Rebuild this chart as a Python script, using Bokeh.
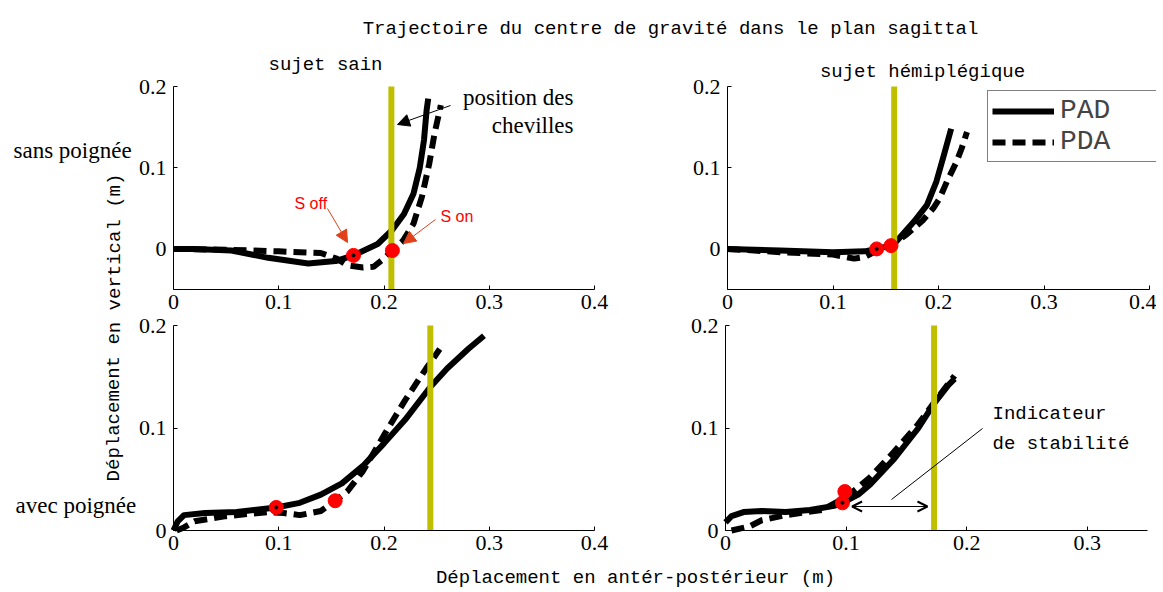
from bokeh.plotting import figure
from bokeh.models import (Range1d, LinearAxis, FixedTicker, Label, Arrow, NormalHead,
                          OpenHead, Legend, LegendItem)
from bokeh.embed import file_html
from bokeh.resources import INLINE

# ---------------- data ----------------
# sujet sain, sans poignee  (top-left)
tl_pad_x = [0, 0.02, 0.055, 0.09, 0.128, 0.154, 0.171, 0.194, 0.2076, 0.219, 0.228, 0.234, 0.238, 0.2405, 0.242]
tl_pad_y = [0, 0, -0.002, -0.011, -0.018, -0.015, -0.008, 0.006, 0.023, 0.043, 0.068, 0.10, 0.134, 0.171, 0.185]
tl_pda_x = [0, 0.05, 0.10, 0.12, 0.14, 0.155, 0.165, 0.18, 0.19, 0.20, 0.208, 0.218, 0.228, 0.236, 0.243, 0.248, 0.254]
tl_pda_y = [0, -0.001, -0.003, -0.004, -0.005, -0.012, -0.02, -0.023, -0.022, -0.012, -0.002, 0.010, 0.031, 0.064, 0.105, 0.142, 0.177]
tl_soff = (0.171, -0.008)
tl_son = (0.208, -0.002)
tl_ankle = 0.207

# sujet hemiplegique, sans poignee  (top-right)
tr_pad_x = [0, 0.05, 0.10, 0.13, 0.1414, 0.155, 0.160, 0.177, 0.189, 0.198, 0.205, 0.212]
tr_pad_y = [0, -0.002, -0.004, -0.003, 0.0, 0.004, 0.009, 0.034, 0.054, 0.083, 0.115, 0.148]
tr_pda_x = [0, 0.05, 0.10, 0.12, 0.13, 0.14, 0.155, 0.17, 0.185, 0.195, 0.201, 0.208, 0.217, 0.222, 0.227]
tr_pda_y = [0, -0.004, -0.007, -0.012, -0.010, -0.003, 0.004, 0.018, 0.035, 0.050, 0.062, 0.083, 0.107, 0.124, 0.144]
tr_soff = (0.1414, 0.0)
tr_son = (0.155, 0.004)
tr_ankle = 0.158

# sujet sain, avec poignee  (bottom-left)
bl_pad_x = [0, 0.004, 0.01, 0.03, 0.06, 0.0976, 0.12, 0.14, 0.16, 0.18, 0.20, 0.22, 0.244, 0.26, 0.28, 0.295]
bl_pad_y = [0, 0.009, 0.015, 0.017, 0.018, 0.0225, 0.027, 0.035, 0.046, 0.063, 0.085, 0.108, 0.140, 0.158, 0.177, 0.190]
bl_pda_x = [0.003, 0.01, 0.02, 0.05, 0.09, 0.105, 0.12, 0.14, 0.1536, 0.165, 0.18, 0.20, 0.22, 0.24, 0.253]
bl_pda_y = [0, 0.003, 0.009, 0.014, 0.018, 0.017, 0.015, 0.019, 0.029, 0.038, 0.058, 0.093, 0.127, 0.158, 0.177]
bl_soff = (0.0976, 0.0225)
bl_son = (0.1536, 0.029)
bl_ankle = 0.244

# sujet hemiplegique, avec poignee  (bottom-right)
br_pad_x = [0, 0.005, 0.015, 0.03, 0.05, 0.07, 0.09, 0.097, 0.11, 0.12, 0.14, 0.16, 0.173, 0.185, 0.19]
br_pad_y = [0.008, 0.014, 0.018, 0.019, 0.018, 0.020, 0.024, 0.027, 0.035, 0.045, 0.070, 0.100, 0.124, 0.142, 0.148]
br_pda_x = [0.005, 0.02, 0.03, 0.05, 0.08, 0.099, 0.11, 0.12, 0.14, 0.16, 0.175, 0.19]
br_pda_y = [0, 0.004, 0.010, 0.015, 0.020, 0.032, 0.042, 0.052, 0.077, 0.104, 0.128, 0.151]
br_soff = (0.097, 0.027)
br_son = (0.099, 0.038)
br_ankle = 0.173

xticks_04 = [0, 0.1, 0.2, 0.3, 0.4]
xticks_035 = [0, 0.1, 0.2, 0.3]
yticks = [0, 0.1, 0.2]
tick_text = {0: "0", 0.1: "0.1", 0.2: "0.2", 0.3: "0.3", 0.4: "0.4"}

# ---------------- figure ----------------
W, H = 1156, 588
OX, OY = 0, 0   # page position of the canvas

p = figure(width=W, height=H, output_backend="svg", toolbar_location=None, tools="",
           x_range=Range1d(OX, OX + W), y_range=Range1d(OY + H, OY),
           x_axis_location=None, y_axis_location=None, min_border=0, title=None)
p.outline_line_color = None
p.xgrid.visible = False
p.ygrid.visible = False
p.background_fill_color = "white"
p.border_fill_color = "white"

def mapped_range(d0, d1, p0, p1, lo, hi):
    k = (p1 - p0) / (d1 - d0)
    return Range1d(d0 + (lo - p0) / k, d0 + (hi - p0) / k)

panels = {
    "tl": dict(xlim=(0, 0.4), xpix=(173, 594), ylim=(-0.05, 0.2), ypix=(289, 86), xt=xticks_04,
               pad=(tl_pad_x, tl_pad_y), pda=(tl_pda_x, tl_pda_y), soff=tl_soff, son=tl_son, ank=tl_ankle),
    "tr": dict(xlim=(0, 0.4), xpix=(727, 1149), ylim=(-0.05, 0.2), ypix=(289, 86), xt=xticks_04,
               pad=(tr_pad_x, tr_pad_y), pda=(tr_pda_x, tr_pda_y), soff=tr_soff, son=tr_son, ank=tr_ankle),
    "bl": dict(xlim=(0, 0.4), xpix=(173, 594), ylim=(0, 0.2), ypix=(530, 325), xt=xticks_04,
               pad=(bl_pad_x, bl_pad_y), pda=(bl_pda_x, bl_pda_y), soff=bl_soff, son=bl_son, ank=bl_ankle),
    "br": dict(xlim=(0, 0.35), xpix=(725, 1147), ylim=(0, 0.2), ypix=(530, 325), xt=xticks_035,
               pad=(br_pad_x, br_pad_y), pda=(br_pda_x, br_pda_y), soff=br_soff, son=br_son, ank=br_ankle),
}

TICK_FONT = "Liberation Serif"
TEXT_FONT = "Liberation Mono"

def style_axis(ax):
    ax.axis_line_color = "black"
    ax.axis_line_width = 1
    ax.major_tick_line_color = "black"
    ax.major_tick_in = 4
    ax.major_tick_out = 0
    ax.minor_tick_line_color = None
    ax.major_label_text_font = TICK_FONT
    ax.major_label_text_font_size = "22px"
    ax.major_label_text_color = "black"

renderers = {}
for key, g in panels.items():
    xr, yr = key + "_x", key + "_y"
    p.extra_x_ranges[xr] = mapped_range(*g["xlim"], *g["xpix"], OX, OX + W)
    p.extra_y_ranges[yr] = mapped_range(*g["ylim"], *g["ypix"], OY + H, OY)

    xa = LinearAxis(x_range_name=xr, y_range_name=yr, fixed_location=g["ylim"][0],
                    bounds=g["xlim"], ticker=FixedTicker(ticks=g["xt"]),
                    major_label_overrides=dict(tick_text))
    style_axis(xa)
    xa.major_label_standoff = 5
    p.add_layout(xa, "below")

    ya = LinearAxis(x_range_name=xr, y_range_name=yr, fixed_location=g["xlim"][0],
                    bounds=g["ylim"], ticker=FixedTicker(ticks=yticks),
                    major_label_overrides=dict(tick_text))
    style_axis(ya)
    ya.major_label_standoff = 7
    p.add_layout(ya, "left")

    kw = dict(x_range_name=xr, y_range_name=yr)
    r_pad = p.line(g["pad"][0], g["pad"][1], line_color="black", line_width=6,
                   line_join="round", **kw)
    r_pda = p.line(g["pda"][0], g["pda"][1], line_color="black", line_width=6,
                   line_dash="13 7", **kw)
    renderers[key] = (r_pad, r_pda)
    # ankle position
    p.segment(x0=[g["ank"]], y0=[g["ylim"][0]], x1=[g["ank"]], y1=[g["ylim"][1]],
              line_color="#bfbf00", line_width=6, **kw)
    # S off / S on markers
    p.scatter([g["soff"][0], g["son"][0]], [g["soff"][1], g["son"][1]], size=14,
              fill_color="#ff0000", line_color="#ff0000", **kw)
    p.scatter([g["soff"][0]], [g["soff"][1]], size=3, fill_color="black",
              line_color="black", **kw)

# legend (top-right panel)
legend = Legend(items=[LegendItem(label="PAD", renderers=[renderers["tr"][0]]),
                       LegendItem(label="PDA", renderers=[renderers["tr"][1]])],
                location=(987, H - 162),
                label_text_font="Liberation Mono", label_text_font_size="28px")
legend.border_line_color = "black"
legend.border_line_width = 1
legend.background_fill_color = "white"
legend.background_fill_alpha = 1
legend.glyph_width = 62
legend.glyph_height = 28
legend.label_height = 28
legend.label_width = 95
legend.label_standoff = 6
legend.spacing = 0
legend.padding = 4
legend.margin = 0
p.add_layout(legend)

# ---------------- texts (page-pixel coordinates) ----------------
def txt(x, y, s, font=TEXT_FONT, size="19px", align="left", color="black", angle=0, style="normal"):
    p.add_layout(Label(x=x, y=y, text=s, text_font=font, text_font_size=size,
                       text_align=align, text_baseline="alphabetic", text_color=color,
                       angle=angle, text_font_style=style))

txt(670, 28, "Trajectoire du centre de gravité dans le plan sagittal", align="center")
txt(325, 64, "sujet sain", align="center")
txt(922, 71, "sujet hémiplégique", align="center")
txt(635, 577, "Déplacement en antér-postérieur (m)", align="center")
txt(114, 327, "Déplacement en vertical (m)", align="center", angle=1.5707963)
txt(13, 150, "sans poignée", font=TICK_FONT, size="23px")
txt(15, 505, "avec poignée", font=TICK_FONT, size="23px")
txt(573, 97, "position des", font=TICK_FONT, size="23px", align="right")
txt(573, 125, "chevilles", font=TICK_FONT, size="23px", align="right")
txt(294, 203, "S off", font="Liberation Sans", size="16px", color="#ff0000")
txt(440, 216, "S on", font="Liberation Sans", size="16px", color="#ff0000")
txt(992, 413, "Indicateur")
txt(992, 443, "de stabilité")

# arrows
p.add_layout(Arrow(end=NormalHead(size=12, fill_color="black", line_color="black"),
                   x_start=450, y_start=105, x_end=397, y_end=124,
                   line_color="black", line_width=1))
ARROW_RED = "#e0401a"
p.add_layout(Arrow(end=NormalHead(size=12, fill_color=ARROW_RED, line_color=ARROW_RED),
                   x_start=327, y_start=208, x_end=347, y_end=242,
                   line_color=ARROW_RED, line_width=1))
p.add_layout(Arrow(end=NormalHead(size=12, fill_color=ARROW_RED, line_color=ARROW_RED),
                   x_start=435, y_start=219, x_end=403, y_end=243,
                   line_color=ARROW_RED, line_width=1))
p.add_layout(Arrow(end=None, x_start=982, y_start=428, x_end=891, y_end=499,
                   line_color="black", line_width=1))
p.add_layout(Arrow(start=OpenHead(size=10, line_width=2), end=OpenHead(size=10, line_width=2),
                   x_start=0.105, y_start=0.0234, x_end=0.1675, y_end=0.0234,
                   x_range_name="br_x", y_range_name="br_y", line_color="black", line_width=1))

open("out.html", "w").write(file_html(p, INLINE))
